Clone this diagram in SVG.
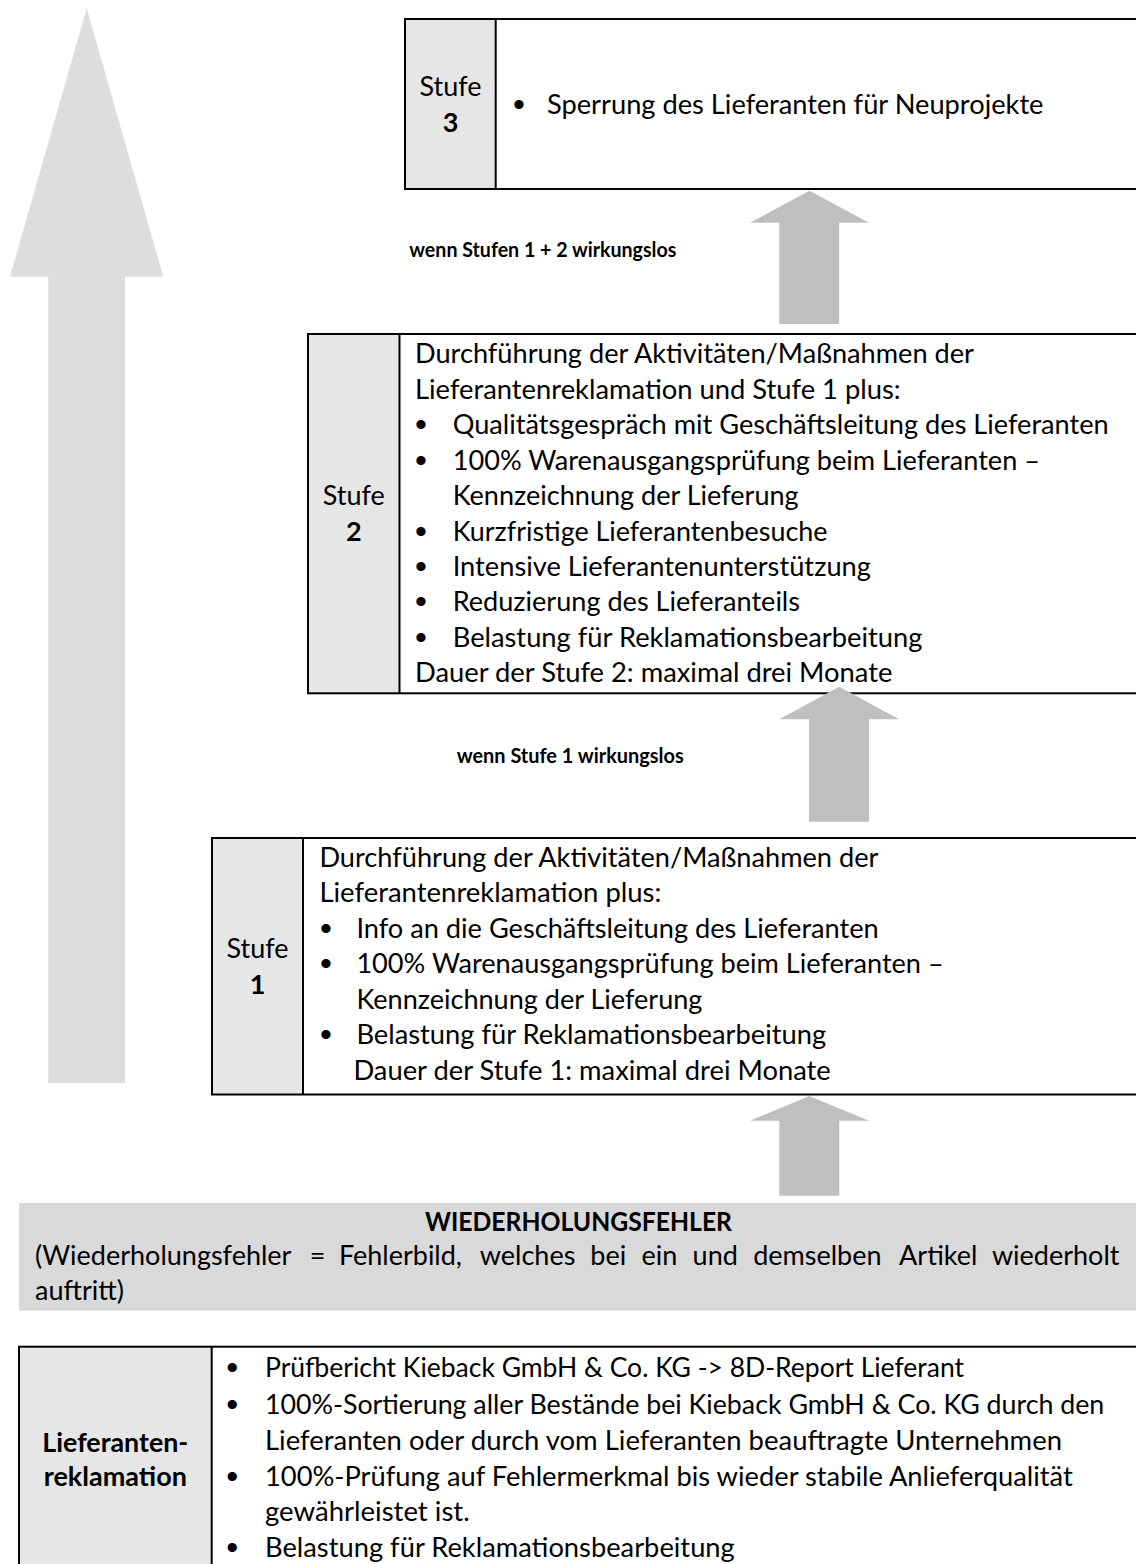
<svg xmlns="http://www.w3.org/2000/svg" width="1136" height="1564" viewBox="0 0 1136 1564">
<style>
.t{font-family:Lato,"Open Sans","Liberation Sans",sans-serif;font-size:27px;fill:#000}
.b{font-weight:bold}
.c{text-anchor:middle}
.bul{font-family:"Liberation Sans",sans-serif;font-size:34px;text-anchor:middle;fill:#000}
.cell{fill:#E6E6E6}
.frame{fill:none;stroke:#000;stroke-width:2}
.arr{fill:#BFBFBF}
.big{fill:#DDDDDD}
.band{fill:#D9D9D9}
</style>
<rect width="1136" height="1564" fill="#fff"/>

<g id="escalation-arrow">
<polygon class="big" points="86.7,8.3 163.3,276.7 125,276.7 125,1083 48.3,1083 48.3,276.7 10,276.7"/>
</g>

<g id="stufe3">
<rect class="cell" x="405" y="19" width="90.7" height="170"/>
<rect class="frame" x="405" y="19" width="745" height="170"/>
<line x1="495.7" y1="19" x2="495.7" y2="189" stroke="#000" stroke-width="2"/>
<text class="t c" x="450.5" y="96" textLength="62" lengthAdjust="spacingAndGlyphs">Stufe</text>
<text class="t c b" x="450.5" y="132">3</text>
<text class="bul" x="519" y="116">•</text>
<text class="t" x="547" y="114" textLength="496.5" lengthAdjust="spacingAndGlyphs">Sperrung des Lieferanten für Neuprojekte</text>
</g>

<g id="label-stufe3">
<text class="t b" x="409.3" y="256.7" style="font-size:20px" textLength="267" lengthAdjust="spacingAndGlyphs">wenn Stufen 1 + 2 wirkungslos</text>
</g>

<g id="stufe2">
<rect class="cell" x="308" y="334" width="91.5" height="359.3"/>
<rect class="frame" x="308" y="334" width="840" height="359.3"/>
<line x1="399.5" y1="334" x2="399.5" y2="693.3" stroke="#000" stroke-width="2"/>
<text class="t c" x="353.8" y="505" textLength="62" lengthAdjust="spacingAndGlyphs">Stufe</text>
<text class="t c b" x="353.8" y="541">2</text>
<text class="t" x="415" y="363" textLength="559" lengthAdjust="spacingAndGlyphs">Durchführung der Aktivitäten/Maßnahmen der</text>
<text class="t" x="415" y="398.5" textLength="485.6" lengthAdjust="spacingAndGlyphs">Lieferantenreklamation und Stufe 1 plus:</text>
<text class="bul" x="421" y="436">•</text>
<text class="t" x="452.7" y="434" textLength="656" lengthAdjust="spacingAndGlyphs">Qualitätsgespräch mit Geschäftsleitung des Lieferanten</text>
<text class="bul" x="421" y="471.5">•</text>
<text class="t" x="452.7" y="469.5" textLength="587.3" lengthAdjust="spacingAndGlyphs">100% Warenausgangsprüfung beim Lieferanten –</text>
<text class="t" x="452.7" y="505" textLength="346" lengthAdjust="spacingAndGlyphs">Kennzeichnung der Lieferung</text>
<text class="bul" x="421" y="542.5">•</text>
<text class="t" x="452.7" y="540.5" textLength="374.8" lengthAdjust="spacingAndGlyphs">Kurzfristige Lieferantenbesuche</text>
<text class="bul" x="421" y="578">•</text>
<text class="t" x="452.7" y="576" textLength="418.3" lengthAdjust="spacingAndGlyphs">Intensive Lieferantenunterstützung</text>
<text class="bul" x="421" y="613">•</text>
<text class="t" x="452.7" y="611" textLength="347.3" lengthAdjust="spacingAndGlyphs">Reduzierung des Lieferanteils</text>
<text class="bul" x="421" y="648.5">•</text>
<text class="t" x="452.7" y="646.5" textLength="469.8" lengthAdjust="spacingAndGlyphs">Belastung für Reklamationsbearbeitung</text>
<text class="t" x="415" y="682" textLength="477.4" lengthAdjust="spacingAndGlyphs">Dauer der Stufe 2: maximal drei Monate</text>
</g>

<g id="label-stufe2">
<text class="t b" x="456.7" y="763" style="font-size:20px" textLength="227" lengthAdjust="spacingAndGlyphs">wenn Stufe 1 wirkungslos</text>
</g>

<g id="stufe1">
<rect class="cell" x="212" y="838" width="91" height="256.5"/>
<rect class="frame" x="212" y="838" width="940" height="256.5"/>
<line x1="303" y1="838" x2="303" y2="1094.5" stroke="#000" stroke-width="2"/>
<text class="t c" x="257.5" y="958" textLength="62" lengthAdjust="spacingAndGlyphs">Stufe</text>
<text class="t c b" x="257.5" y="994">1</text>
<text class="t" x="319.4" y="866.5" textLength="559" lengthAdjust="spacingAndGlyphs">Durchführung der Aktivitäten/Maßnahmen der</text>
<text class="t" x="319.4" y="902" textLength="342" lengthAdjust="spacingAndGlyphs">Lieferantenreklamation plus:</text>
<text class="bul" x="326" y="939.5">•</text>
<text class="t" x="356.4" y="937.5" textLength="522.4" lengthAdjust="spacingAndGlyphs">Info an die Geschäftsleitung des Lieferanten</text>
<text class="bul" x="326" y="975">•</text>
<text class="t" x="356.4" y="973" textLength="587.3" lengthAdjust="spacingAndGlyphs">100% Warenausgangsprüfung beim Lieferanten –</text>
<text class="t" x="356.4" y="1008.5" textLength="346" lengthAdjust="spacingAndGlyphs">Kennzeichnung der Lieferung</text>
<text class="bul" x="326" y="1046">•</text>
<text class="t" x="356.4" y="1044" textLength="469.8" lengthAdjust="spacingAndGlyphs">Belastung für Reklamationsbearbeitung</text>
<text class="t" x="353.4" y="1079.5" textLength="477.4" lengthAdjust="spacingAndGlyphs">Dauer der Stufe 1: maximal drei Monate</text>
</g>

<g id="wiederholungsfehler">
<rect class="band" x="19" y="1203" width="1130" height="107.7"/>
<text class="t b c" x="578.5" y="1231" textLength="307" lengthAdjust="spacingAndGlyphs">WIEDERHOLUNGSFEHLER</text>
<text class="t" y="1265"><tspan x="35">(Wiederholungsfehler</tspan><tspan x="309.8">=</tspan><tspan x="338.9">Fehlerbild,</tspan><tspan x="479.8">welches</tspan><tspan x="590.3">bei</tspan><tspan x="641.5">ein</tspan><tspan x="692.6">und</tspan><tspan x="753.2">demselben</tspan><tspan x="899.1">Artikel</tspan><tspan x="991.9">wiederholt</tspan></text>
<text class="t" x="35" y="1300">auftritt)</text>
</g>

<g id="lieferantenreklamation">
<rect class="cell" x="19" y="1346.7" width="192.7" height="230"/>
<rect class="frame" x="19" y="1346.7" width="1130" height="240"/>
<line x1="211.7" y1="1346.7" x2="211.7" y2="1570" stroke="#000" stroke-width="2"/>
<text class="t b c" x="115.3" y="1451.5" textLength="146" lengthAdjust="spacingAndGlyphs">Lieferanten-</text>
<text class="t b c" x="115.3" y="1486">reklamation</text>
<text class="bul" x="232.3" y="1379">•</text>
<text class="t" x="265" y="1377" textLength="699" lengthAdjust="spacingAndGlyphs">Prüfbericht Kieback GmbH &amp; Co. KG -&gt; 8D-Report Lieferant</text>
<text class="bul" x="232.3" y="1415.5">•</text>
<text class="t" x="265" y="1413.5" textLength="839.3" lengthAdjust="spacingAndGlyphs">100%-Sortierung aller Bestände bei Kieback GmbH &amp; Co. KG durch den</text>
<text class="t" x="265" y="1449.5" textLength="797" lengthAdjust="spacingAndGlyphs">Lieferanten oder durch vom Lieferanten beauftragte Unternehmen</text>
<text class="bul" x="232.3" y="1487.5">•</text>
<text class="t" x="265" y="1485.5" textLength="807.7" lengthAdjust="spacingAndGlyphs">100%-Prüfung auf Fehlermerkmal bis wieder stabile Anlieferqualität</text>
<text class="t" x="265" y="1521" textLength="204.7" lengthAdjust="spacingAndGlyphs">gewährleistet ist.</text>
<text class="bul" x="232.3" y="1559">•</text>
<text class="t" x="265" y="1557" textLength="469.8" lengthAdjust="spacingAndGlyphs">Belastung für Reklamationsbearbeitung</text>
</g>

<g id="connectors">
<polygon class="arr" points="809.5,190.7 869,222.7 839.2,222.7 839.2,324 779.3,324 779.3,222.7 750,222.7"/>
<polygon class="arr" points="839.2,686.7 899,719.3 869,719.3 869,821.7 809,821.7 809,719.3 779.3,719.3"/>
<polygon class="arr" points="809.3,1096 869,1120.7 839.3,1120.7 839.3,1195.7 779.3,1195.7 779.3,1120.7 750,1120.7"/>
</g>
</svg>
